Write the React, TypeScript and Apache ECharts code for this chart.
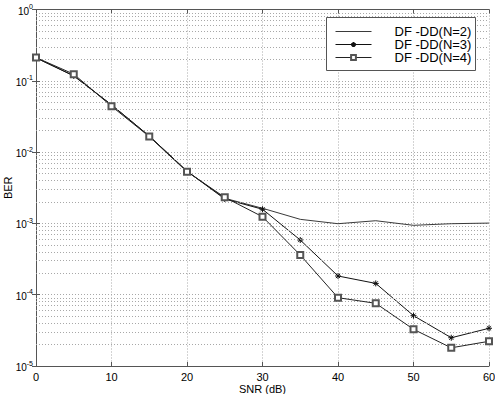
import React, { useEffect, useRef } from "react";
import * as echarts from "echarts";

const snr = [0, 5, 10, 15, 20, 25, 30, 35, 40, 45, 50, 55, 60];
const berN2 = [0.21, 0.118, 0.046, 0.0168, 0.0054, 0.00225, 0.00163, 0.00114, 0.00099, 0.00109, 0.00094, 0.00099, 0.00101];
const berN3 = [0.21, 0.117, 0.046, 0.0168, 0.0054, 0.0022, 0.00158, 0.000585, 0.000183, 0.000144, 0.0000508, 0.0000249, 0.0000338];
const berN4 = [0.212, 0.124, 0.044, 0.0165, 0.0053, 0.00232, 0.00124, 0.00036, 0.0000908, 0.0000757, 0.0000327, 0.000018, 0.0000222];
const seriesNames = ["DF -DD(N=2)", "DF -DD(N=3)", "DF -DD(N=4)"];
const decades = [-5, -4, -3, -2, -1];
const mantissas = [2, 3, 4, 5, 6, 7, 8, 9];

const FONT = "'Liberation Sans', Arial, Helvetica, sans-serif";
const ASTERISK = "path://M5,0L5,10M0,5L10,5M1.5,1.5L8.5,8.5M1.5,8.5L8.5,1.5";

export default function App() {
  const ref = useRef<HTMLDivElement>(null);
  useEffect(() => {
    if (!ref.current) return;
    const chart = echarts.init(ref.current, null, { renderer: "svg" });
    const minorLines: any[] = [];
    decades.forEach((d) => mantissas.forEach((m) => minorLines.push({ yAxis: m * Math.pow(10, d) })));
    const pairs = (ys: number[]) => snr.map((x, i) => [x, ys[i]]);
    const gridDot = { color: "#a8a8a8", width: 1, type: [1, 2] as any };
    const axisLineStyle = { color: "#555", width: 1 };
    chart.setOption({
      animation: false,
      backgroundColor: "#fff",
      textStyle: { fontFamily: FONT },
      grid: { left: 36, right: 6, top: 9.5, bottom: 28, outerBoundsMode: "none", containLabel: false },
      graphic: [
        {
          type: "rect",
          z: 50,
          shape: { x: 326.5, y: 17.5, width: 149, height: 53 },
          style: { fill: "#fff", stroke: "#555", lineWidth: 1 },
          silent: true,
        },
      ],
      legend: {
        z: 60,
        left: 326,
        top: 17,
        orient: "vertical",
        itemWidth: 36,
        itemHeight: 6,
        itemGap: 0,
        padding: [8, 0, 7, 9],
        borderWidth: 0,
        backgroundColor: "transparent",
        lineStyle: { width: 1 },
        data: [
          { name: seriesNames[0], itemStyle: { opacity: 0 } },
          { name: seriesNames[1] },
          { name: seriesNames[2] },
        ],
        textStyle: { fontFamily: FONT, fontSize: 13, color: "#000", lineHeight: 13, padding: [0, 0, 0, 18] },
      },
      xAxis: [
        {
          type: "value",
          min: 0,
          max: 60,
          interval: 10,
          name: "SNR (dB)",
          nameLocation: "middle",
          nameGap: 17,
          nameMoveOverlap: false,
          nameTextStyle: { fontFamily: FONT, fontSize: 11, color: "#000" },
          axisLine: { show: true, lineStyle: axisLineStyle },
          axisTick: { show: true, inside: true, length: 4, lineStyle: axisLineStyle },
          axisLabel: { fontFamily: FONT, fontSize: 11, color: "#000", margin: 5 },
          splitLine: { show: true, lineStyle: gridDot },
        },
        {
          type: "value",
          position: "top",
          min: 0,
          max: 60,
          interval: 10,
          axisLine: { show: true, lineStyle: axisLineStyle },
          axisTick: { show: true, inside: true, length: 4, lineStyle: axisLineStyle },
          axisLabel: { show: false },
          splitLine: { show: false },
        },
      ],
      yAxis: [
        {
          type: "log",
          logBase: 10,
          min: 0.00001,
          max: 1,
          splitNumber: 5,
          name: "BER",
          nameLocation: "middle",
          nameGap: 23,
          nameMoveOverlap: false,
          nameRotate: 90,
          nameTextStyle: { fontFamily: FONT, fontSize: 11, color: "#000" },
          axisLine: { show: true, lineStyle: axisLineStyle },
          axisTick: { show: true, inside: true, length: 4, lineStyle: axisLineStyle },
          axisLabel: {
            margin: 3,
            formatter: (v: number) => `{b|10}{s|${Math.round(Math.log10(v))}}`,
            rich: {
              b: { fontFamily: FONT, fontSize: 10, color: "#000", lineHeight: 13, verticalAlign: "bottom" },
              s: { fontFamily: FONT, fontSize: 7, color: "#000", lineHeight: 13, verticalAlign: "top" },
            },
          },
          splitLine: { show: true, lineStyle: gridDot },
        },
        {
          type: "log",
          logBase: 10,
          min: 0.00001,
          max: 1,
          splitNumber: 5,
          position: "right",
          axisLine: { show: true, lineStyle: axisLineStyle },
          axisTick: { show: true, inside: true, length: 4, lineStyle: axisLineStyle },
          axisLabel: { show: false },
          splitLine: { show: false },
        },
      ],
      series: [
        {
          name: seriesNames[0],
          type: "line",
          data: pairs(berN2),
          symbol: "none",
          lineStyle: { color: "#3a3a3a", width: 1 },
          itemStyle: { color: "#3a3a3a" },
          markLine: {
            silent: true,
            precision: 12,
            symbol: ["none", "none"],
            label: { show: false },
            lineStyle: gridDot,
            emphasis: { disabled: true },
            data: minorLines,
          },
          z: 3,
        },
        {
          name: seriesNames[1],
          type: "line",
          data: pairs(berN3),
          symbol: ASTERISK,
          symbolSize: 6,
          showAllSymbol: true,
          lineStyle: { color: "#111", width: 1 },
          itemStyle: { color: "#111", borderColor: "#111", borderWidth: 1 },
          z: 4,
        },
        {
          name: seriesNames[2],
          type: "line",
          data: pairs(berN4),
          symbol: "emptyRect",
          symbolSize: 6,
          showAllSymbol: true,
          lineStyle: { color: "#222", width: 1 },
          itemStyle: { color: "#555", borderColor: "#555", borderWidth: 0.8 },
          z: 5,
        },
      ],
    });
    return () => chart.dispose();
  }, []);
  return <div ref={ref} style={{ position: "fixed", left: 0, top: 0, width: 495, height: 394 }} />;
}
